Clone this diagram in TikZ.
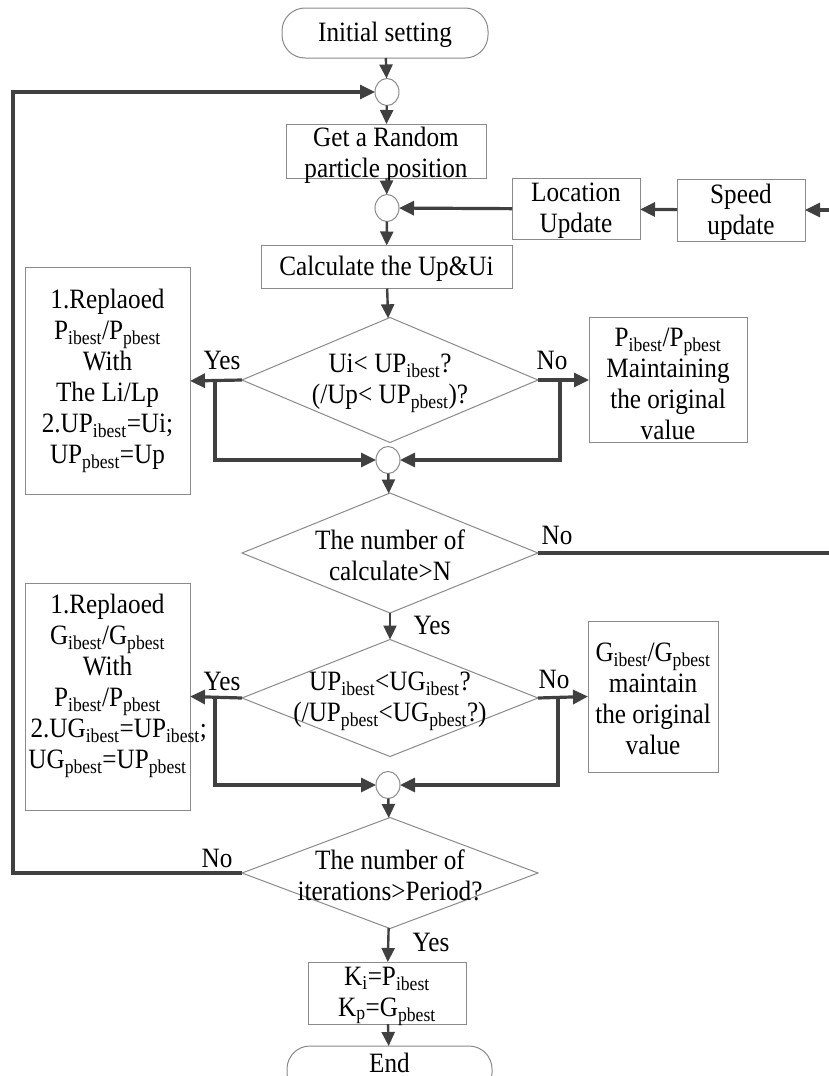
\documentclass[tikz,border=0pt]{standalone}
\usepackage{fontspec}
\setmainfont{Liberation Serif}[FakeStretch=0.9]
\usetikzlibrary{arrows.meta,shapes.geometric}
\definecolor{conncol}{HTML}{404040}
\definecolor{bordcol}{HTML}{8A8A8A}
\newcommand{\sbs}[1]{\textsubscript{#1}}
\begin{document}
\begin{tikzpicture}[x=1pt,y=-1pt,
  every node/.style={font=\fontsize{28}{31}\selectfont, inner sep=0pt, outer sep=0pt},
  box/.style={draw=bordcol, line width=1pt, fill=white},
  term/.style={box, rounded corners=23pt},
  dia/.style={diamond, draw=bordcol, line width=1pt, fill=white},
  junc/.style={ellipse, draw=bordcol, line width=1pt, fill=white, minimum width=24pt, minimum height=27pt},
  txt/.style={align=center},
  conn/.style={draw=conncol, line width=2.4pt, -{Triangle[length=14pt,width=13pt]}},
  hconn/.style={draw=conncol, line width=3.2pt, -{Triangle[length=15pt,width=14pt]}},
  wire/.style={draw=conncol, line width=3.2pt}]
\useasboundingbox (0,0) rectangle (829,1076);

% shapes
\node[term, minimum width=206pt, minimum height=50pt] (init) at (385,33) {};
\node[txt] (initt) at (385,35) {Initial setting};
\node[junc] (c1) at (387,92) {};
\node[box, minimum width=200pt, minimum height=54pt] (rand) at (386,151) {};
\node[txt] (randt) at (386,155) {Get a Random\\particle position};
\node[junc] (c2) at (387,208) {};
\node[box, minimum width=128pt, minimum height=61pt] (loc) at (576,209) {};
\node[txt] (loct) at (576,211) {Location\\Update};
\node[box, minimum width=128pt, minimum height=62pt] (spd) at (741,210) {};
\node[txt] (spdt) at (741,212) {Speed\\update};
\node[box, minimum width=251pt, minimum height=43pt] (calc) at (386.5,267) {};
\node[txt] (calct) at (386.5,269) {Calculate the Up\&Ui};

\node[dia, minimum width=296pt, minimum height=125pt] (d1) at (390,380) {};
\node[txt] (d1t) at (390,383) {Ui< UP\sbs{ibest}?\\(/Up< UP\sbs{pbest})?};
\node[box, minimum width=165pt, minimum height=227pt] (l1) at (107.5,381) {};
\node[txt] (l1t) at (107.5,381) {1.Replaoed\\P\sbs{ibest}/P\sbs{pbest}\\With\\The Li/Lp\\2.UP\sbs{ibest}=Ui;\\UP\sbs{pbest}=Up};
\node[box, minimum width=158pt, minimum height=125pt] (r1) at (668,380) {};
\node[txt] (r1t) at (668,384) {P\sbs{ibest}/P\sbs{pbest}\\Maintaining\\the original\\value};
\node[junc] (c3) at (388,460) {};

\node[dia, minimum width=296pt, minimum height=120pt] (d2) at (390,553) {};
\node[txt] (d2t) at (390,555) {The number of\\calculate>N};

\node[dia, minimum width=296pt, minimum height=117pt] (d3) at (390,698) {};
\node[txt] (d3t) at (390,701) {UP\sbs{ibest}<UG\sbs{ibest}?\\(/UP\sbs{pbest}<UG\sbs{pbest}?)};
\node[box, minimum width=165pt, minimum height=227pt] (l2) at (107.5,696.5) {};
\node[txt] (l2t) at (107.5,686) {1.Replaoed\\G\sbs{ibest}/G\sbs{pbest}\\With\\P\sbs{ibest}/P\sbs{pbest}\\\makebox[154pt][l]{2.UG\sbs{ibest}=UP\sbs{ibest};}\\UG\sbs{pbest}=UP\sbs{pbest}};
\node[box, minimum width=130pt, minimum height=151pt] (r2) at (653,696.5) {};
\node[txt] (r2t) at (653,699) {G\sbs{ibest}/G\sbs{pbest}\\maintain\\the original\\value};
\node[junc] (c4) at (388,785) {};

\node[dia, minimum width=296pt, minimum height=111pt] (d4) at (390,873) {};
\node[txt] (d4t) at (390,875) {The number of\\iterations>Period?};
\node[box, minimum width=158pt, minimum height=62pt] (kb) at (387,993) {};
\node[txt] (kbt) at (387,996) {K\sbs{i}=P\sbs{ibest}\\K\sbs{p}=G\sbs{pbest}};
\node[term, minimum width=205pt, minimum height=50pt] (fin) at (389.5,1071) {};
\node[txt] (fint) at (389.5,1063) {End};

% labels
\node (y1) at (222,360) {Yes};
\node (n1) at (552,360) {No};
\node (n2) at (557,535) {No};
\node (y2) at (432,625) {Yes};
\node (y3) at (222,681) {Yes};
\node (n3) at (554,679) {No};
\node (n4) at (217,858) {No};
\node (y4) at (431,942) {Yes};

% connectors
\draw[conn] (init) -- (c1);
\draw[conn] (c1) -- (rand);
\draw[conn] (rand) -- (c2);
\draw[conn] (c2) -- (calc);
\draw[hconn] (spd) -- (loc);
\draw[hconn] (loc) -- (c2);
\draw[hconn] (d2.east) -- (850,553) |- (spd.east);
\draw[conn] (calc) -- (d1);

\coordinate (b1l) at (215,380);
\coordinate (b1r) at (560,380);
\draw[hconn] (d1.west) -- (l1.east);
\draw[hconn] (d1.east) -- (r1.west);
\draw[hconn] (b1l) |- (c3.west);
\draw[hconn] (b1r) |- (c3.east);
\draw[conn] (c3) -- (d2);
\draw[conn] (d2) -- (d3);

\coordinate (b3l) at (215,698);
\coordinate (b3r) at (558,698);
\draw[hconn] (d3.west) -- (l2.east);
\draw[hconn] (d3.east) -- (r2.west);
\draw[hconn] (b3l) |- (c4.west);
\draw[hconn] (b3r) |- (c4.east);
\draw[conn] (c4) -- (d4);

\draw[hconn] (d4.west) -- (13,873) |- (c1.west);
\draw[conn] (d4) -- (kb);
\draw[conn] (kb) -- (fin);
\end{tikzpicture}
\end{document}
